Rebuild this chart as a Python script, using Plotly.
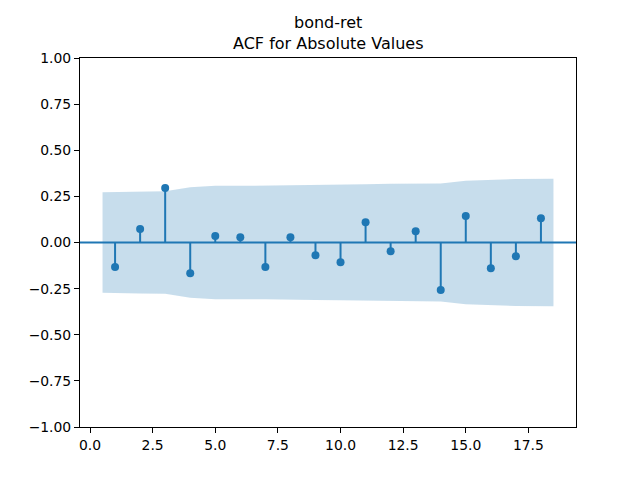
import plotly.graph_objects as go

# Data
lags = list(range(1, 19))
acf_vals = [-0.133, 0.073, 0.296, -0.166, 0.035, 0.029, -0.133, 0.029, -0.069,
            -0.107, 0.110, -0.047, 0.061, -0.258, 0.143, -0.139, -0.074, 0.132]
conf_upper = [0.272, 0.277, 0.278, 0.300, 0.307, 0.307, 0.308, 0.312, 0.312,
              0.313, 0.316, 0.319, 0.319, 0.320, 0.335, 0.340, 0.344, 0.345]
conf_lower = [-v for v in conf_upper]

title_main = "bond-ret"
title_sub = "ACF for Absolute Values"
y_ticks = [-1.0, -0.75, -0.5, -0.25, 0.0, 0.25, 0.5, 0.75, 1.0]
x_ticks = [0.0, 2.5, 5.0, 7.5, 10.0, 12.5, 15.0, 17.5]

C0 = "#1f77b4"
FONT = "DejaVu Sans"

# band x like statsmodels: first/last lags extended by half a step
band_x = [lags[0] - 0.5] + lags[1:-1] + [lags[-1] + 0.5]

fig = go.Figure()

fig.add_trace(go.Scatter(
    x=band_x + band_x[::-1],
    y=conf_upper + conf_lower[::-1],
    fill="toself", fillcolor="rgba(31,119,180,0.25)",
    line=dict(width=0), mode="lines", hoverinfo="skip", showlegend=False,
))

stem_x, stem_y = [], []
for lag, v in zip(lags, acf_vals):
    stem_x += [lag, lag, None]
    stem_y += [0, v, None]
fig.add_trace(go.Scatter(x=stem_x, y=stem_y, mode="lines",
                         line=dict(color=C0, width=2), showlegend=False))

fig.add_trace(go.Scatter(x=lags, y=acf_vals, mode="markers",
                         marker=dict(color=C0, size=8), showlegend=False))

fig.add_hline(y=0, line=dict(color=C0, width=2), layer="above")

axis_common = dict(
    showline=True, linecolor="black", linewidth=1, mirror=True,
    ticks="outside", ticklen=5, tickwidth=1, tickcolor="black",
    showgrid=False, zeroline=False, automargin=False,
    tickfont=dict(family=FONT, size=13.9, color="black"),
)

# the page body adds an 8px offset, so the figure is 632x472
fig.update_layout(
    width=632, height=472,
    margin=dict(l=72, r=64, t=50, b=53),
    paper_bgcolor="white", plot_bgcolor="white",
    font=dict(family=FONT, color="black"),
    xaxis=dict(range=[-0.4, 19.4], tickvals=x_ticks,
               ticktext=[f"{t:.1f}" for t in x_ticks], **axis_common),
    yaxis=dict(range=[-1, 1], tickvals=y_ticks,
               ticktext=[f"{t:.2f}".replace("-", "\u2212") for t in y_ticks],
               **axis_common),
    annotations=[
        dict(text=title_main, xref="paper", yref="paper", x=0.5, y=1,
             xanchor="center", yanchor="bottom", yshift=24, showarrow=False,
             font=dict(family=FONT, size=16, color="black")),
        dict(text=title_sub, xref="paper", yref="paper", x=0.5, y=1,
             xanchor="center", yanchor="bottom", yshift=3, showarrow=False,
             font=dict(family=FONT, size=16, color="black")),
    ],
)

fig.write_html("out.html")
